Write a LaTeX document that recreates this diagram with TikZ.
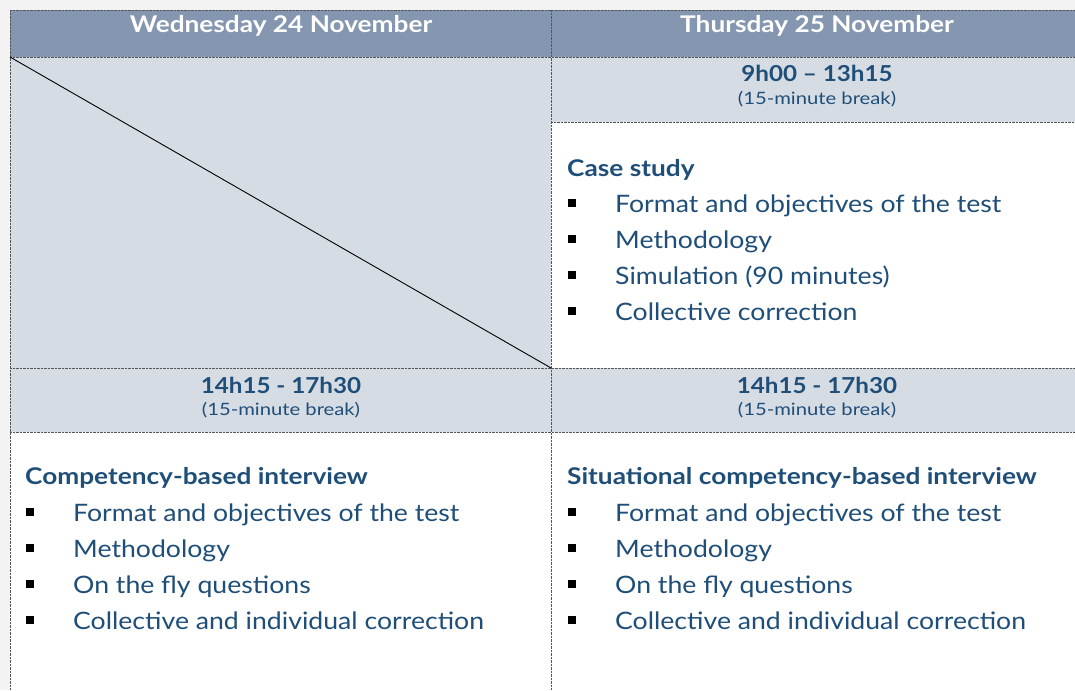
\documentclass[tikz,border=0pt]{standalone}
\usepackage{fontspec}
\setmainfont{Lato}
\newfontfamily\itemfont[FakeStretch=1.11]{Lato}
\newfontfamily\headfont[FakeStretch=1.14]{Lato}
\newfontfamily\timefont[FakeStretch=1.10]{Lato}
\newfontfamily\breakfont[FakeStretch=1.19]{Lato}
\definecolor{bgc}{HTML}{F3F3F3}
\definecolor{hdrc}{HTML}{8496B0}
\definecolor{lightc}{HTML}{D6DCE4}
\definecolor{txtc}{HTML}{1F4E79}
\definecolor{gridc}{HTML}{555555}
\tikzset{
  gridline/.style={draw=gridc, line width=0.7pt, dash pattern=on 0.7pt off 0.7pt},
  hdrtext/.style={anchor=base, text=white, font=\headfont\fontsize{23}{27}\selectfont\bfseries, inner sep=0pt},
  timebig/.style={anchor=base, text=txtc, font=\timefont\fontsize{22}{26}\selectfont\bfseries, inner sep=0pt},
  timesmall/.style={anchor=base, text=txtc, font=\breakfont\fontsize{17}{20}\selectfont, inner sep=0pt},
  headtext/.style={anchor=base west, text=txtc, font=\headfont\fontsize{23}{27}\selectfont\bfseries, inner sep=0pt},
  itemtext/.style={anchor=base west, text=txtc, font=\itemfont\fontsize{24}{28}\selectfont, inner sep=0pt},
  bulletbox/.style={fill=black, inner sep=0pt, minimum size=7.5pt, anchor=center}
}
\begin{document}
\begin{tikzpicture}[x=1pt,y=-1pt]
\useasboundingbox (0,0) rectangle (1075,690);
\fill[bgc] (0,0) rectangle (1075,690);
% cell fills
\fill[hdrc] (10,10) rectangle (1075,57);
\fill[lightc] (10,57) rectangle (551,368);
\fill[lightc] (551,57) rectangle (1075,122);
\fill[white] (551,122) rectangle (1075,368);
\fill[lightc] (10,368) rectangle (1075,432);
\fill[white] (10,432) rectangle (1075,690);
% grid
\draw[gridline] (10,10) -- (1075,10);
\draw[gridline] (10,57) -- (1075,57);
\draw[gridline] (551,122) -- (1075,122);
\draw[gridline] (10,368) -- (1075,368);
\draw[gridline] (10,432) -- (1075,432);
\draw[gridline] (10,10) -- (10,690);
\draw[gridline] (551,10) -- (551,690);
% diagonal
\coordinate (d1) at (10,57);
\coordinate (d2) at (551,368);
\draw[black, line width=0.9pt] (d1) -- (d2);
% headers
\node[hdrtext] (h1) at (281,33) {Wednesday 24 November};
\node[hdrtext] (h2) at (817,33) {Thursday 25 November};
% times
\node[timebig] (t1) at (817,82) {9h00 – 13h15};
\node[timesmall] (b1) at (817,105) {(15-minute break)};
\node[timebig] (t2) at (281,393) {14h15 - 17h30};
\node[timesmall] (b2) at (281,415) {(15-minute break)};
\node[timebig] (t3) at (817,393) {14h15 - 17h30};
\node[timesmall] (b3) at (817,415) {(15-minute break)};
% case study
\node[headtext] (cs) at (567,176) {Case study};
\node[bulletbox] (cs1b) at (572,203) {};
\node[itemtext] (cs1) at (615,212) {Format and objectives of the test};
\node[bulletbox] (cs2b) at (572,239) {};
\node[itemtext] (cs2) at (615,248) {Methodology};
\node[bulletbox] (cs3b) at (572,275) {};
\node[itemtext] (cs3) at (615,284) {Simulation (90 minutes)};
\node[bulletbox] (cs4b) at (572,311) {};
\node[itemtext] (cs4) at (615,320) {Collective correction};
% competency-based interview
\node[headtext] (ci) at (25,484) {Competency-based interview};
\node[bulletbox] (ci1b) at (30,512) {};
\node[itemtext] (ci1) at (73,521) {Format and objectives of the test};
\node[bulletbox] (ci2b) at (30,548) {};
\node[itemtext] (ci2) at (73,557) {Methodology};
\node[bulletbox] (ci3b) at (30,584) {};
\node[itemtext] (ci3) at (73,593) {On the fly questions};
\node[bulletbox] (ci4b) at (30,620) {};
\node[itemtext] (ci4) at (73,629) {Collective and individual correction};
% situational
\node[headtext] (si) at (567,484) {Situational competency-based interview};
\node[bulletbox] (si1b) at (572,512) {};
\node[itemtext] (si1) at (615,521) {Format and objectives of the test};
\node[bulletbox] (si2b) at (572,548) {};
\node[itemtext] (si2) at (615,557) {Methodology};
\node[bulletbox] (si3b) at (572,584) {};
\node[itemtext] (si3) at (615,593) {On the fly questions};
\node[bulletbox] (si4b) at (572,620) {};
\node[itemtext] (si4) at (615,629) {Collective and individual correction};
\end{tikzpicture}
\end{document}
